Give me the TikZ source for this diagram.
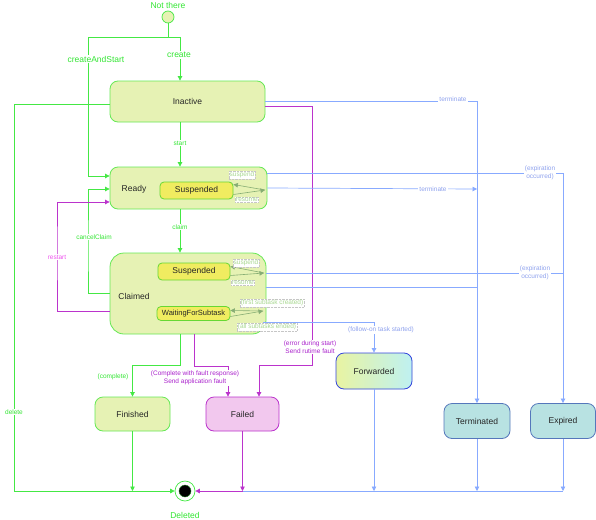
\documentclass[tikz,border=0pt]{standalone}
\usepackage{fontspec}
\setmainfont{Liberation Sans}
\usetikzlibrary{arrows.meta}
\definecolor{gline}{HTML}{44E844}
\definecolor{gtext}{HTML}{33E633}
\definecolor{gborder}{HTML}{66E855}
\definecolor{gfill}{HTML}{E6F2B4}
\definecolor{yfill}{HTML}{F0EC60}
\definecolor{yborder}{HTML}{66D833}
\definecolor{bline}{HTML}{88AAFF}
\definecolor{btext}{HTML}{8FA2EE}
\definecolor{mline}{HTML}{BB33CC}
\definecolor{mtext}{HTML}{AA22CC}
\definecolor{rtext}{HTML}{EE55EE}
\definecolor{pfill}{HTML}{F2C8EE}
\definecolor{cfill}{HTML}{B8E2E2}
\definecolor{cborder}{HTML}{5577BB}
\definecolor{fborder}{HTML}{3344DD}
\definecolor{itext}{HTML}{A8D890}
\begin{document}
\begin{tikzpicture}[x=1pt,y=-1pt,
  >={Triangle[length=4.5pt,width=4.5pt]},
  state/.style={draw=gborder,fill=gfill,rounded corners=8pt,line width=0.8pt,
    font=\fontsize{8.5}{10}\selectfont,text=black!85,inner sep=0pt},
  sub/.style={draw=yborder,fill=yfill,rounded corners=4pt,line width=0.8pt,
    font=\fontsize{8.5}{10}\selectfont,text=black!85,inner sep=0pt},
  plain/.style={font=\fontsize{8.5}{10}\selectfont,text=black!85,inner sep=0pt},
  gl/.style={draw=gline,line width=0.7pt},
  bl/.style={draw=bline,line width=0.7pt},
  ml/.style={draw=mline,line width=0.7pt},
  lg/.style={draw=itext!80!black,line width=0.6pt},
  lbl/.style={fill=white,inner sep=1pt,font=\fontsize{6.5}{7.5}\selectfont},
  glbl/.style={lbl,text=gtext},
  blbl/.style={lbl,text=btext,align=center},
  mlbl/.style={lbl,text=mtext,align=center},
  ilbl/.style={fill=white,draw=gray!45,densely dotted,inner sep=0.8pt,
    text=itext,font=\fontsize{6.5}{7.5}\selectfont},
  big/.style={inner sep=1pt,text=gtext,font=\fontsize{8.5}{10}\selectfont}
]
\useasboundingbox (0,0) rectangle (596,519);

% ---------- states ----------
\node[circle,draw=gline,fill=gfill,minimum size=12pt,inner sep=0pt,line width=0.7pt] (ns) at (168,17) {};
\node[big] (nslbl) at (168,5) {Not there};
\node[state,minimum width=155pt,minimum height=41pt] (inactive) at (187.5,101.5) {Inactive};
\node[state,minimum width=157pt,minimum height=42pt] (ready) at (188.5,188) {};
\node[plain] (readylbl) at (134,189) {Ready};
\node[sub,minimum width=73pt,minimum height=17pt] (rsusp) at (196.5,190.5) {Suspended};
\node[state,rounded corners=14pt,minimum width=156pt,minimum height=81pt] (claimed) at (188,293.5) {};
\node[plain] (claimedlbl) at (134,296) {Claimed};
\node[sub,minimum width=72pt,minimum height=17pt] (csusp) at (194,271.5) {Suspended};
\node[sub,minimum width=73pt,minimum height=14pt,font=\fontsize{7.5}{9}\selectfont] (wait) at (193.5,313.5) {WaitingForSubtask};
\node[state,draw=fborder,left color=gfill!90!yellow,right color=cfill!80!cyan!60!white,
  minimum width=76pt,minimum height=36pt] (forwarded) at (374,371) {Forwarded};
\node[state,minimum width=75pt,minimum height=34pt] (finished) at (132.5,414) {Finished};
\node[state,draw=mline,fill=pfill,minimum width=73pt,minimum height=34pt] (failed) at (242.5,414) {Failed};
\node[state,draw=cborder,fill=cfill,minimum width=66pt,minimum height=35pt] (terminated) at (477,421) {Terminated};
\node[state,draw=cborder,fill=cfill,minimum width=65pt,minimum height=35pt] (expired) at (563,421) {Expired};
\node[circle,draw=gline,fill=white,minimum size=20pt,inner sep=0pt,line width=0.7pt] (deleted) at (185,491) {};
\node[circle,fill=black,draw=gline!60!black,minimum size=12pt,inner sep=0pt] (deletedcore) at (185,491) {};
\node[big] (deletedlbl) at (185,515) {Deleted};

% ---------- helper coordinates ----------
\coordinate (cA) at (88,37);
\coordinate (cB) at (180,37);
\coordinate (cc) at (88,250);
\coordinate (rs) at (57,250);
\coordinate (dl) at (14,491);
\coordinate (tx) at (477,101.5);
\coordinate (ex) at (563,173);
\coordinate (tj1) at (477,189);
\coordinate (exj) at (563,273);
\coordinate (tj2) at (477,287);
\coordinate (m1) at (312,365);
\coordinate (m2) at (228,366);
\coordinate (g2) at (132.5,365);
\coordinate (rj) at (265,190);
\coordinate (cj) at (264,273);
\coordinate (wj) at (263,311);

% ---------- green transitions ----------
\draw[gl,->] (ns.south) |- (cB) -- (cB |- inactive.north);
\draw[gl,->] (ns.south) |- (cA) |- ([yshift=12pt]ready.west);
\draw[gl,->] ([yshift=-2.5pt]inactive.west) -| (dl) -- (deleted.west);
\draw[gl,->] ([xshift=-7.5pt]inactive.south) -- ([xshift=-8.5pt]ready.north);
\draw[gl,->] ([xshift=-8.5pt]ready.south) -- ([xshift=-8pt]claimed.north);
\draw[gl,->] (claimed.west) -| (cc) |- ([yshift=-1pt]ready.west);
\draw[gl,->] ([xshift=-8pt]claimed.south) |- (g2) -- (finished.north);
\draw[gl,->] (finished.south) -- (finished.south |- deleted);

% ---------- magenta transitions ----------
\draw[ml,->] ([yshift=-17.5pt]claimed.west) -| (rs) |- ([yshift=-14pt]ready.west);
\draw[ml,->] ([yshift=-4.5pt]inactive.east) -| (m1) -| ([xshift=16.5pt]failed.north);
\draw[ml,->] ([xshift=6pt]claimed.south) |- (m2) -- ([xshift=-14.5pt]failed.north);
\draw[ml,->] (failed.south) -- (failed.south |- deleted);
\draw[ml,->] (failed.south |- deleted) -- (deleted.east);

% ---------- blue transitions ----------
\draw[bl,->] (inactive.east) -- (tx) -- (terminated.north);
\draw[bl,->] ([yshift=15pt]ready.east) -- (ex) -- (expired.north);
\draw[bl,->] (ready.east) -- (tj1);
\draw[bl] ([yshift=20.5pt]claimed.east) -- (exj);
\draw[bl] ([yshift=6.5pt]claimed.east) -- (tj2);
\draw[bl,->] ([xshift=-3pt,yshift=-28.5pt]claimed.east) -| (forwarded.north);
\draw[bl] (failed.south |- deleted) -- (expired.south |- deleted);
\draw[bl,->] (forwarded.south) -- (forwarded.south |- deleted);
\draw[bl,->] (terminated.south) -- (terminated.south |- deleted);
\draw[bl,->] (expired.south) -- (expired.south |- deleted);

% ---------- internal transitions ----------
\draw[lg,->] (rj) -- ([yshift=6pt]rsusp.east);
\draw[lg,->] ([yshift=-4pt]rsusp.east) -- (rj);
\draw[lg,->] (cj) -- ([yshift=5pt]csusp.east);
\draw[lg,->] ([yshift=-4pt]csusp.east) -- (cj);
\draw[lg,->] (wj) -- ([yshift=3pt]wait.east);
\draw[lg,->] ([yshift=-3pt]wait.east) -- (wj);

% ---------- labels ----------
\node[big,fill=white] (createlbl) at (179,55) {create};
\node[big,fill=white] (caslbl) at (96,59) {createAndStart};
\node[glbl] (deletelbl) at (14,412) {delete};
\node[glbl] (startlbl) at (180,143) {start};
\node[glbl] (claimlbl) at (180,227) {claim};
\node[glbl] (cancellbl) at (94,237) {cancelClaim};
\node[lbl,text=rtext] (restartlbl) at (57,257) {restart};
\node[glbl] (completelbl) at (113,377) {(complete)};
\node[mlbl] (faultlbl) at (195,378) {(Complete with fault response)\\Send application fault};
\node[mlbl] (errlbl) at (310,347) {(error during start)\\Send rutime fault};
\node[blbl] (term1lbl) at (453,99) {terminate};
\node[blbl] (term2lbl) at (433,189) {terminate};
\node[blbl] (exp1lbl) at (540,173) {(expiration\\occurred)};
\node[blbl] (exp2lbl) at (535,273) {(expiration\\occurred)};
\node[blbl] (follbl) at (381,330) {(follow-on task started)};
\node[ilbl] (rsuslbl) at (242,175) {suspend};
\node[ilbl] (rreslbl) at (247,200) {resume};
\node[ilbl] (csuslbl) at (246,263) {suspend};
\node[ilbl] (creslbl) at (243,283) {resume};
\node[ilbl] (firstlbl) at (272,303) {(first subtask created)};
\node[ilbl] (alllbl) at (267,327) {(all subtasks ended)};
\end{tikzpicture}
\end{document}
